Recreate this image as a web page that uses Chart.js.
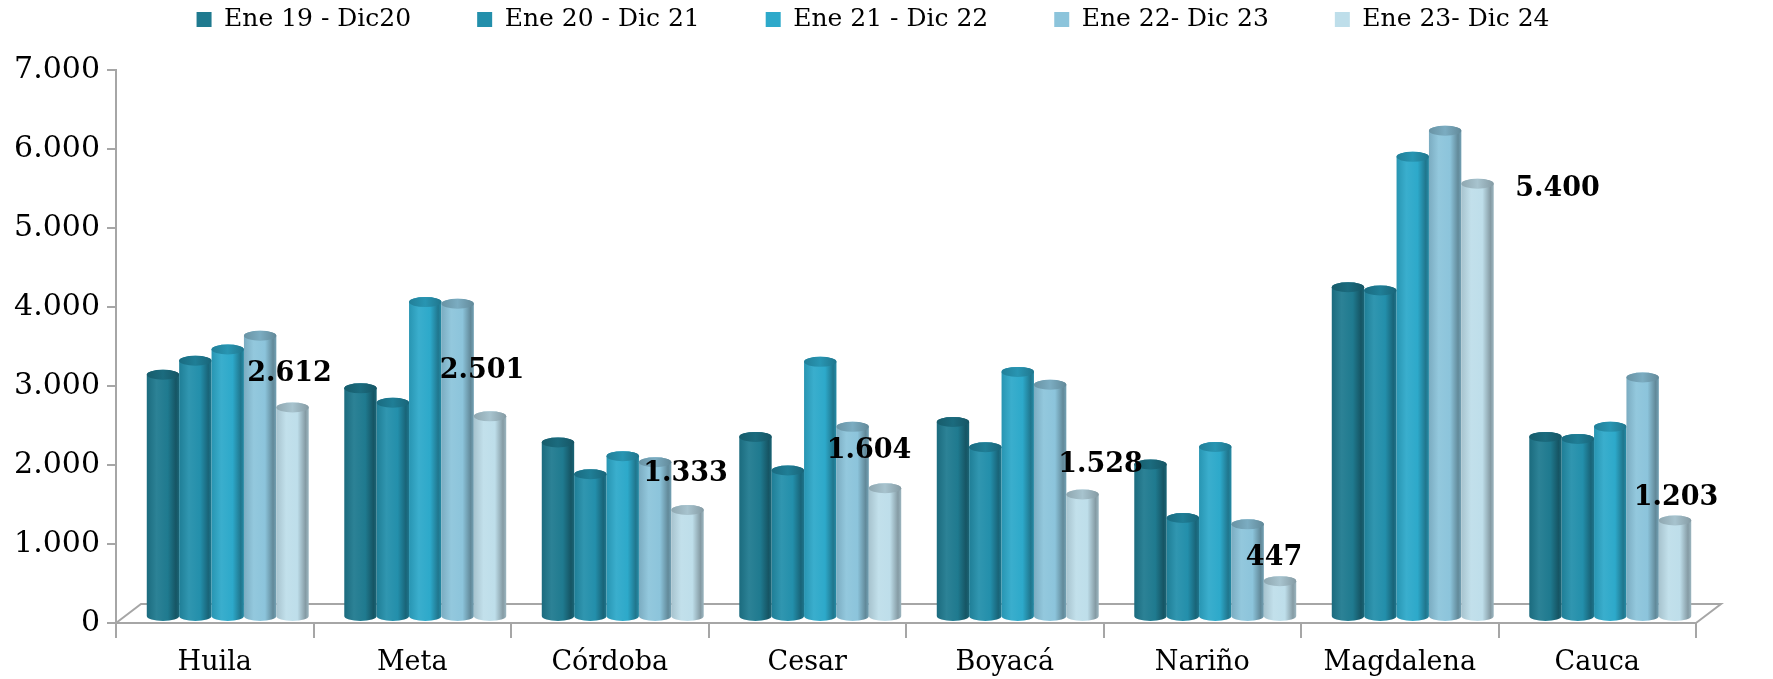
<!DOCTYPE html>
<html>
<head>
<meta charset="utf-8">
<script src="https://cdn.jsdelivr.net/npm/chart.js@4.4.1/dist/chart.umd.min.js"></script>
<style>
  html, body { margin: 0; padding: 0; background: #fff; }
  #grafico { display: block; }
</style>
</head>
<body>
<canvas id="grafico" width="1773" height="679"></canvas>
<script>
// Datos =====================================================================

const categorias = ["Huila", "Meta", "Córdoba", "Cesar", "Boyacá", "Nariño", "Magdalena", "Cauca"];
const periodos = ["Ene 19 - Dic20", "Ene 20 - Dic 21", "Ene 21 - Dic 22", "Ene 22- Dic 23", "Ene 23- Dic 24"];

const ene19 = [3020, 2850, 2175, 2245, 2430, 1900, 4110, 2245];
const ene20 = [3195, 2670, 1780, 1825, 2115, 1235, 4070, 2220];
const ene21 = [3335, 3925, 2005, 3180, 3055, 2120, 5735, 2370];
const ene22 = [3505, 3905, 1930, 2370, 2895, 1155, 6060, 2985];
const ene23 = [2612, 2501, 1333, 1604, 1528, 447, 5400, 1203];

const yMax = 7000;
const yPaso = 1000;

const colores = ["#1F7A8F", "#238FAB", "#2DA9CA", "#8CC4DB", "#BEDEEA"];

// desplazamiento de cada etiqueta respecto a la cima de su barra (px)
const etiquetaDx = [-3, -8, -2, -16, 18, -6, 80, 1];
const etiquetaDy = [-33, -45, -36, -37, -29, -23, 5, -23];

// Utilidades =================================================================

const miles = (v) => String(Math.round(v)).replace(/\B(?=(\d{3})+(?!\d))/g, ".");

function tono(hex, f) {
  const n = parseInt(hex.slice(1), 16);
  let r = (n >> 16) & 255, g = (n >> 8) & 255, b = n & 255;
  const t = f < 0 ? 0 : 255, p = Math.abs(f);
  r = Math.round(r + (t - r) * p);
  g = Math.round(g + (t - g) * p);
  b = Math.round(b + (t - b) * p);
  return `rgb(${r},${g},${b})`;
}

// Plugin: piso 3D + cilindros + etiquetas ====================================

const cilindros = {
  id: "cilindros",
  afterLayout(chart, args, opts) {
    // la leyenda del original queda un poco a la derecha del centro
    if (chart.legend) {
      chart.legend.left += opts.leyendaDx;
      chart.legend.right += opts.leyendaDx;
    }
  },
  beforeDatasetsDraw(chart, args, opts) {
    const { ctx, chartArea } = chart;
    const y0 = chart.scales.y.getPixelForValue(0);
    ctx.save();
    ctx.strokeStyle = "#a6a6a6";
    ctx.lineWidth = 2;
    ctx.beginPath();
    ctx.moveTo(chartArea.left, y0);
    ctx.lineTo(chartArea.left + opts.fondoX, y0 - opts.fondoY);
    ctx.lineTo(chartArea.right + opts.fondoX, y0 - opts.fondoY);
    ctx.lineTo(chartArea.right, y0);
    ctx.stroke();
    ctx.restore();
  },
  beforeDatasetDraw() {
    return false;
  },
  afterDatasetsDraw(chart, args, opts) {
    const { ctx } = chart;
    // cima en el plano de las barras (perspectiva: algo más altas que el eje)
    const cima = (y, b) => b + opts.dy - (b - y) * opts.escala;
    ctx.save();
    chart.data.datasets.forEach((ds, i) => {
      const meta = chart.getDatasetMeta(i);
      const base = ds.backgroundColor;
      meta.data.forEach((el) => {
        const { x, y, base: b, width } = el.getProps(["x", "y", "base", "width"], true);
        const rx = width / 2;
        const cx = x + opts.dx;
        const top = cima(y, b);
        const bot = b + opts.dy;
        const ry = opts.ry;
        const left = cx - rx, right = cx + rx;

        const grad = ctx.createLinearGradient(left, 0, right, 0);
        grad.addColorStop(0, tono(base, -0.12));
        grad.addColorStop(0.3, tono(base, 0.06));
        grad.addColorStop(0.65, base);
        grad.addColorStop(0.9, tono(base, -0.3));
        grad.addColorStop(1, tono(base, -0.18));

        ctx.beginPath();
        ctx.moveTo(left, top);
        ctx.lineTo(left, bot);
        ctx.ellipse(cx, bot, rx, ry, 0, Math.PI, 0, true);
        ctx.lineTo(right, top);
        ctx.ellipse(cx, top, rx, ry, 0, 0, Math.PI, true);
        ctx.closePath();
        ctx.fillStyle = grad;
        ctx.fill();

        const tapa = ctx.createLinearGradient(left, 0, right, 0);
        tapa.addColorStop(0, tono(base, -0.25));
        tapa.addColorStop(0.5, tono(base, -0.12));
        tapa.addColorStop(1, tono(base, -0.3));
        ctx.beginPath();
        ctx.ellipse(cx, top, rx, ry, 0, 0, Math.PI * 2);
        ctx.fillStyle = tapa;
        ctx.fill();
      });
    });

    // etiquetas de la última serie
    const ult = chart.data.datasets.length - 1;
    const meta = chart.getDatasetMeta(ult);
    ctx.font = opts.fuente;
    ctx.fillStyle = "#000";
    ctx.textAlign = "center";
    ctx.textBaseline = "middle";
    meta.data.forEach((el, j) => {
      const { x, y, base: b } = el.getProps(["x", "y", "base"], true);
      const v = chart.data.datasets[ult].data[j];
      ctx.fillText(miles(v), x + opts.dx + etiquetaDx[j], cima(y, b) + etiquetaDy[j]);
    });
    ctx.restore();
  },
};

// Gráfico ====================================================================

const series = [ene19, ene20, ene21, ene22, ene23];

const data = {
  labels: categorias,
  datasets: series.map((valores, i) => ({
    label: periodos[i],
    data: valores,
    backgroundColor: colores[i],
    borderWidth: 0,
    categoryPercentage: 0.82,
    barPercentage: 1.0,
  })),
};

const config = {
  type: "bar",
  data: data,
  options: {
    responsive: false,
    animation: false,
    devicePixelRatio: 1,
    layout: { padding: { top: -59, left: 8, right: 77, bottom: -8 } },
    plugins: {
      legend: {
        position: "top",
        labels: {
          font: { family: "'DejaVu Serif'", size: 25 },
          color: "#000",
          boxWidth: 15,
          boxHeight: 15,
          padding: 66,
        },
      },
      subtitle: {
        display: true,
        text: "",
        weight: 500,
        font: { size: 1 },
        padding: { top: 27, bottom: 0 },
      },
      tooltip: { enabled: false },
      cilindros: {
        dx: 13,
        dy: -6,
        ry: 5,
        escala: 1.016,
        fondoX: 25,
        fondoY: 19,
        leyendaDx: 21,
        fuente: "bold 27px 'DejaVu Serif'",
      },
    },
    scales: {
      x: {
        grid: {
          offset: true,
          drawOnChartArea: false,
          drawTicks: true,
          tickLength: 15,
          color: "#a6a6a6",
          lineWidth: 2,
        },
        border: { display: true, color: "#a6a6a6", width: 2 },
        ticks: {
          color: "#000",
          font: { family: "'DejaVu Serif'", size: 27, lineHeight: 1 },
          padding: 11,
          maxRotation: 0,
        },
      },
      y: {
        min: 0,
        max: yMax,
        afterFit: (scale) => {
          scale.width = 108;
        },
        grid: {
          drawOnChartArea: false,
          drawTicks: true,
          tickLength: 9,
          color: "#a6a6a6",
          lineWidth: 2,
        },
        border: { display: true, color: "#a6a6a6", width: 2 },
        ticks: {
          stepSize: yPaso,
          color: "#000",
          padding: 7,
          font: { family: "'DejaVu Serif'", size: 30 },
          callback: (v) => miles(v),
        },
      },
    },
  },
  plugins: [cilindros],
};

const grafico = new Chart(document.getElementById("grafico"), config);
</script>
</body>
</html>
